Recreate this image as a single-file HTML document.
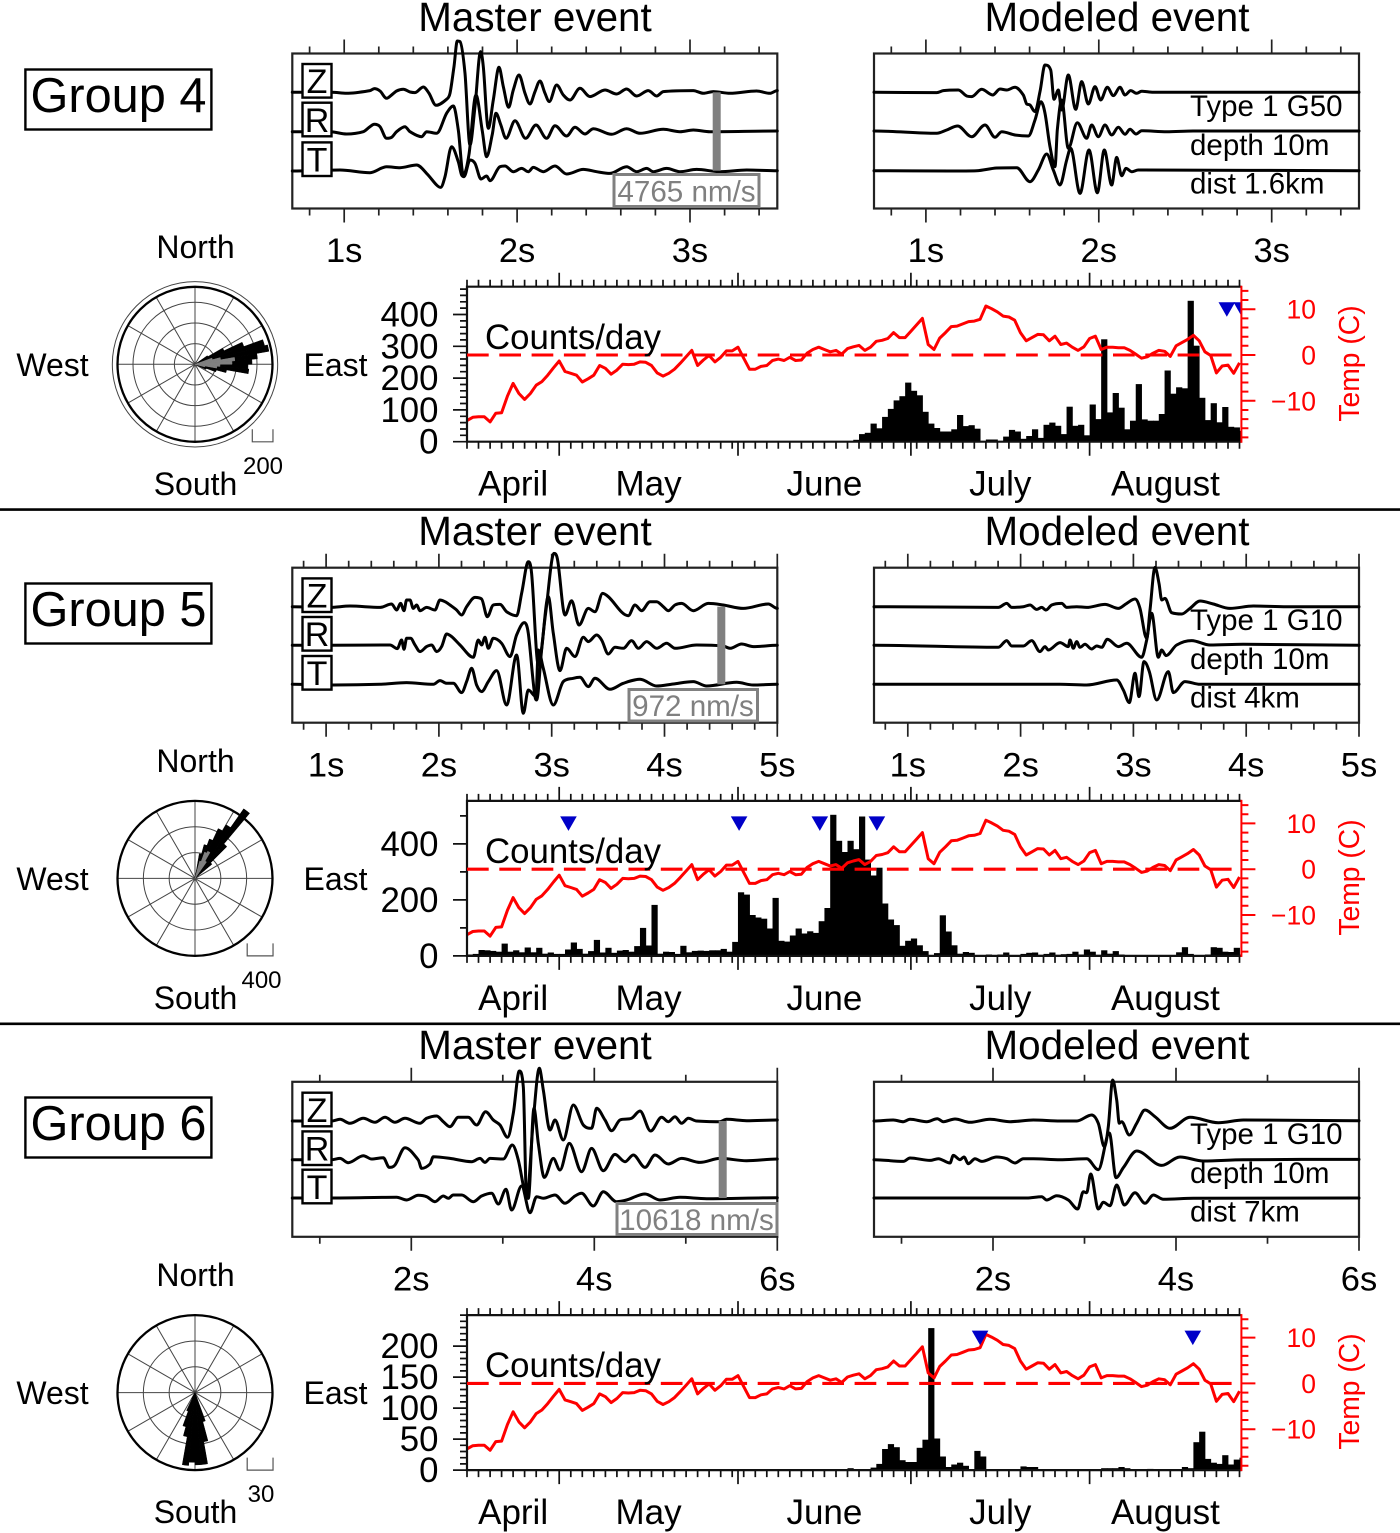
<!DOCTYPE html>
<html lang="en">
<head>
<meta charset="utf-8">
<title>Seismic event groups</title>
<style>
html,body{margin:0;padding:0;background:#fff;}
svg{display:block;font-family:"Liberation Sans",Arial,sans-serif;}
.t40{font-size:40.4px;text-anchor:middle;}
.t48{font-size:48.7px;}
.t32{font-size:32px;text-anchor:middle;}
.t34{font-size:34.8px;}
.t30{font-size:29.5px;}
.t24{font-size:24px;text-anchor:middle;}
.gr{font-size:29.6px;fill:#808080;text-anchor:middle;}
.tp{font-size:28.3px;fill:#f00;text-anchor:middle;}
.bx{fill:#fff;stroke:#000;stroke-width:2.4;}
.gb{fill:#fff;stroke:#808080;stroke-width:3;}
.zl{font-size:34px;text-anchor:middle;}
</style>
</head>
<body>
<svg id="chart" width="1400" height="1533" viewBox="0 0 1400 1533">
  <rect x="0" y="0" width="1400" height="1533" fill="#fff"/>
  <line x1="0" x2="1400" y1="509.6" y2="509.6" stroke="#000" stroke-width="2.6"/>
  <line x1="0" x2="1400" y1="1023.8" y2="1023.8" stroke="#000" stroke-width="2.6"/>

  <g id="group4"></g>
  <g id="group5"></g>
  <g id="group6"></g>

  <!-- Group 4 text -->
  <g>
    <rect class="bx" x="25.4" y="69.5" width="186" height="60"/>
    <text class="t48" x="30.5" y="112">Group 4</text>
    <text class="t40" x="535" y="31">Master event</text>
    <text class="t40" x="1117" y="31">Modeled event</text>
    <text class="t30" x="1190" y="116">Type 1 G50</text>
    <text class="t30" x="1190" y="155">depth 10m</text>
    <text class="t30" x="1190" y="193.5">dist 1.6km</text>
    <rect class="gb" x="614" y="174.5" width="145" height="32"/>
    <text class="gr" x="686.5" y="201.5">4765 nm/s</text>
    <text class="t32" x="195.5" y="258">North</text>
    <text class="t32" x="52.5" y="376">West</text>
    <text class="t32" x="335.5" y="376">East</text>
    <text class="t32" x="195.5" y="495">South</text>
    <text class="t24" x="263" y="474">200</text>
    <text class="t34" x="485" y="349">Counts/day</text>
    <text class="tp" transform="translate(1359 363.5) rotate(-90)">Temp (C)</text>
  </g>

  <!-- Group 5 text -->
  <g>
    <rect class="bx" x="25.4" y="583.5" width="186" height="60"/>
    <text class="t48" x="30.5" y="626">Group 5</text>
    <text class="t40" x="535" y="545">Master event</text>
    <text class="t40" x="1117" y="545">Modeled event</text>
    <text class="t30" x="1190" y="630">Type 1 G10</text>
    <text class="t30" x="1190" y="669">depth 10m</text>
    <text class="t30" x="1190" y="707.5">dist 4km</text>
    <rect class="gb" x="629" y="689.5" width="128.5" height="31.5"/>
    <text class="gr" x="693" y="716">972 nm/s</text>
    <text class="t32" x="195.5" y="772">North</text>
    <text class="t32" x="52.5" y="890">West</text>
    <text class="t32" x="335.5" y="890">East</text>
    <text class="t32" x="195.5" y="1009">South</text>
    <text class="t24" x="261.5" y="988">400</text>
    <text class="t34" x="485" y="863">Counts/day</text>
    <text class="tp" transform="translate(1359 877.5) rotate(-90)">Temp (C)</text>
  </g>

  <!-- Group 6 text -->
  <g>
    <rect class="bx" x="25.4" y="1097.5" width="186" height="60"/>
    <text class="t48" x="30.5" y="1140">Group 6</text>
    <text class="t40" x="535" y="1059">Master event</text>
    <text class="t40" x="1117" y="1059">Modeled event</text>
    <text class="t30" x="1190" y="1144">Type 1 G10</text>
    <text class="t30" x="1190" y="1183">depth 10m</text>
    <text class="t30" x="1190" y="1221.5">dist 7km</text>
    <rect class="gb" x="617" y="1203.5" width="160" height="31"/>
    <text class="gr" x="696.5" y="1230">10618 nm/s</text>
    <text class="t32" x="195.5" y="1286">North</text>
    <text class="t32" x="52.5" y="1404">West</text>
    <text class="t32" x="335.5" y="1404">East</text>
    <text class="t32" x="195.5" y="1523">South</text>
    <text class="t24" x="261" y="1502">30</text>
    <text class="t34" x="485" y="1377">Counts/day</text>
    <text class="tp" transform="translate(1359 1391.5) rotate(-90)">Temp (C)</text>
  </g>
</svg>
<script>
/* ---------- shared time-series data ---------- */
const monthLabels = ["April","May","June","July","August"];
const monthStartDays = [0,16,47,77,108,134.3];
const tempLabels = [10,0,-10];

/* daily temperature, deg C, from the start of the window */
const tempValues = [
-14.3,-13.6,-13.5,-13.5,-14.6,-12.7,-12.6,-9.0,-6.2,-8.4,
-9.7,-8.4,-6.6,-5.8,-4.4,-2.8,-1.3,-3.6,-4.0,-4.4,
-5.9,-5.2,-4.4,-2.3,-2.9,-4.2,-3.3,-2.0,-2.1,-2.0,
-1.5,-1.6,-2.3,-3.9,-4.6,-4.0,-3.1,-1.8,-0.4,1.0,
-2.3,-1.1,-0.1,-1.5,-0.5,0.9,0.9,1.7,-0.7,-3.1,
-3.1,-2.5,-2.3,-1.2,-0.9,-1.2,-0.5,-1.2,-1.1,0.4,
1.2,1.7,1.2,0.7,1.0,0.2,1.4,1.8,2.1,1.0,
1.7,3.0,3.2,3.6,4.9,3.8,3.8,5.2,6.6,8.0,
2.3,1.2,3.7,4.9,6.2,6.3,6.8,7.3,7.4,7.8,
10.7,10.1,9.4,8.5,8.3,7.6,4.9,3.1,3.8,4.5,
4.4,3.1,4.1,2.3,2.6,1.7,1.0,1.8,3.6,4.1,
1.2,1.7,1.7,1.6,1.6,1.0,0.2,-0.7,-0.4,0.4,
1.0,0.8,-0.3,2.0,2.7,3.4,4.3,3.1,0.7,-0.1,
-3.9,-2.4,-2.2,-4.0,-1.7];

/* ---------- daily event counts ---------- */
const g4Counts = [
0,0,0,0,0,0,0,0,0,0,0,0,0,0,0,0,0,0,0,0,
0,0,0,0,0,0,0,0,0,0,0,0,0,0,0,0,0,0,0,0,
0,0,0,0,0,0,0,0,0,0,0,0,0,0,0,0,0,0,0,0,
0,0,0,0,0,1,2,
6,24,28,57,42,78,103,130,143,186,160,146,94,57,43,32,32,39,84,49,
52,41,2,7,7,2,16,37,32,9,18,39,12,53,60,50,24,110,50,53,
20,117,71,322,92,153,107,39,66,181,70,66,66,87,224,151,171,168,443,302,
138,68,121,61,109,47,45,34];
const g5Counts = [
5,7,21,20,18,15,44,15,20,13,30,13,29,8,12,7,7,23,48,25,
8,17,57,12,29,11,19,21,15,35,100,37,182,8,15,14,7,36,13,18,
19,18,20,20,25,15,50,227,219,146,137,133,98,207,54,51,73,98,80,88,
82,124,171,504,411,371,411,381,498,344,287,315,187,130,110,36,54,62,38,17,
2,10,145,87,38,8,14,11,1,1,5,2,5,12,2,0,7,11,12,4,
7,12,4,6,7,15,5,23,15,4,20,8,17,5,1,0,0,0,0,0,
0,0,0,13,31,7,1,1,5,31,29,15,14,29,5];
const g6Counts = [
0,0,0,0,0,0,0,0,0,0,0,0,0,0,0,0,0,0,0,0,
0,0,0,0,0,0,0,0,0,0,0,0,0,0,0,0,0,0,0,0,
0,0,0,0,0,0,0,0,0,0,0,0,0,0,0,0,0,0,0,0,
0,0,0,0,0,0,
3,1,0,1,4,10,34,42,37,16,13,13,36,49,229,51,22,5,9,12,
7,1,31,22,0,0,0,0,0,0,6,5,5,0,0,0,0,0,0,0,
0,0,1,0,3,3,3,5,3,0,0,0,2,0,0,0,0,0,5,3,
45,62,18,12,10,24,9,17,20,10];

const g4EventDays = [131.8,134.4];
const g5EventDays = [17.6,47.2,61.2,71.1];
const g6EventDays = [89,125.9];

const g4CountLabels = [0,100,200,300,400];
const g5CountLabels = [0,200,400];
const g6CountLabels = [0,50,100,150,200];

/* ---------- rose diagrams: 5-degree azimuth bins ---------- */
const g4RoseBins  = [55,60,65,70,75,80,85,90,95,100,105,110];
const g4RoseCounts= [145,310,503,697,726,606,552,513,523,310,213,116];
const g4RoseSubset= [0,0,0,174,252,387,358,242,213,97,0,0];
const g5RoseBins  = [10,15,20,25,30,35,40,45];
const g5RoseCounts= [387,542,650,851,960,1316,697,341];
const g5RoseSubset= [0,279,433,464,310,0,0,0];
const g6RoseBins  = [160,165,170,175,180,185,190,195,200,205];
const g6RoseCounts= [35,58,84,84,81,85,52,41,23,8];
const g6RoseSubset= [0,0,0,0,0,0,0,0,0,0];

/* ---------- waveforms: sample, amplitude pairs (1455 samples per window) ---------- */
const g4MasterZ = [0,0,118,0,163,-3,233,5,246,11,263,4,283,-18,298,-8,313,4,333,9,353,1,368,-1,393,16,410,-3,431,-39,463,-21,473,-3,485,77,495,154,503,152,518,57,533,-158,548,-43,565,122,573,77,588,-108,603,-23,620,75,633,17,649,-45,663,7,680,52,698,-3,713,-35,728,2,743,34,758,-3,771,-28,793,22,813,-8,833,-23,863,12,893,-13,938,7,973,-5,1003,10,1033,-11,1068,5,1093,-11,1113,2,1203,5,1233,-3,1263,2,1313,-3,1393,4,1433,-3,1455,5];
const g4MasterR = [0,-2,113,-2,163,-9,213,-2,233,13,246,20,263,13,283,-22,298,-19,313,-2,338,13,353,-2,388,-17,403,-2,433,-7,463,53,483,75,498,3,513,-132,530,-70,551,108,570,0,583,-77,600,-10,611,53,625,20,641,-22,668,31,700,-22,731,18,763,-22,788,16,823,-15,848,11,878,-9,903,7,958,-10,1003,7,1043,-7,1113,5,1163,-2,1203,3,1253,-2,1455,0];
const g4MasterT = [0,-1,143,2,233,-6,283,12,323,9,373,17,403,-8,433,-43,445,-50,458,-18,478,72,498,27,508,-13,515,-18,533,32,548,22,566,-25,583,-16,593,-30,623,12,638,14,663,-3,688,7,708,-3,723,10,753,-3,788,14,823,-10,873,4,913,-3,953,-8,1003,12,1033,-3,1063,7,1083,-3,1123,7,1163,-3,1213,4,1283,-3,1363,2,1455,0];
const g4ModelZ = [0,0,188,-1,208,5,253,7,278,-11,293,-13,323,9,356,-8,378,10,398,7,423,15,448,-8,458,-35,468,-38,483,-58,498,2,513,82,530,67,540,-21,553,7,563,-53,583,52,605,-51,623,32,643,-35,663,17,680,-23,700,15,718,-10,738,15,753,-8,770,5,788,-3,803,3,838,0,1455,0];
const g4ModelR = [0,0,188,-7,218,3,251,15,293,-17,333,18,363,-19,383,-2,423,-12,463,-15,483,33,501,88,513,53,528,-47,543,-107,550,3,563,93,583,-52,610,25,638,-22,653,18,673,-17,693,18,713,-12,733,11,753,-10,768,5,786,-9,803,1,878,-2,958,0,1455,0];
const g4ModelT = [0,0,228,-1,308,0,368,8,428,9,468,-33,493,2,518,50,538,2,558,-43,578,32,590,67,618,-68,645,62,670,-66,691,62,713,-43,728,40,743,-15,756,7,773,-3,793,2,1455,0];

const g5MasterZ = [0,0,113,-2,173,2,263,-2,298,8,313,-10,325,10,335,-12,343,20,353,20,363,-5,373,5,383,-12,403,-2,428,-10,443,20,458,15,473,5,493,-10,508,-25,523,0,548,28,568,23,585,-30,603,5,623,7,643,-15,673,-27,688,40,708,135,718,100,738,-175,760,-20,785,160,795,145,818,-25,838,18,860,-55,888,-5,908,-15,931,40,948,30,1008,-27,1028,5,1048,-12,1073,15,1093,15,1113,0,1128,-12,1148,5,1168,10,1203,-12,1248,10,1293,5,1353,-5,1428,8,1455,-5];
const g5MasterR = [0,0,113,0,293,1,315,-10,328,16,335,-12,343,21,355,21,368,1,383,-19,403,-4,418,1,433,-19,448,-4,463,34,478,26,503,1,543,-36,558,16,568,1,578,24,588,-9,603,21,628,6,653,-34,673,31,696,68,708,36,728,-154,733,-164,748,-14,768,146,783,36,803,-76,823,-9,848,-34,873,24,888,11,913,31,928,16,948,-26,968,-6,993,-9,1018,14,1038,-9,1063,11,1093,-9,1123,6,1148,-9,1213,1,1293,-2,1313,-9,1348,4,1383,-4,1455,0];
const g5MasterT = [0,0,123,-2,263,0,343,5,423,0,443,11,463,3,483,3,508,-25,523,8,538,48,553,-2,568,-22,588,8,613,41,643,-62,673,88,693,-87,708,-17,731,-37,738,103,753,48,783,-62,813,8,843,18,863,21,888,-7,908,18,953,-15,993,3,1043,15,1093,-5,1143,1,1203,8,1243,-5,1333,6,1383,-2,1455,0];
const g5ModelZ = [0,0,373,-2,398,10,413,-2,448,0,468,5,488,-8,503,-2,516,-10,533,5,563,10,578,-2,608,0,638,-2,693,7,733,-5,758,10,783,23,798,-5,818,-95,828,-10,843,118,855,70,863,20,873,25,893,-18,923,-22,948,-5,978,17,1018,8,1068,-5,1138,2,1238,0,1455,0];
const g5ModelR = [0,0,373,-6,398,14,413,-2,448,-2,473,14,498,-19,513,-4,523,-14,558,8,583,-4,588,16,598,-9,608,11,618,-6,633,3,653,-11,668,-2,683,-6,700,18,733,-4,758,6,803,-36,818,16,833,96,853,-36,863,-14,876,-31,908,1,953,14,1008,1,1108,3,1455,0];
const g5ModelT = [0,0,558,0,638,-2,728,13,748,-17,766,-55,783,33,795,-37,810,68,826,38,848,-47,883,38,898,-25,933,8,978,0,1455,0];

const g6MasterZ = [0,0,118,0,143,5,173,-7,213,8,248,-4,278,11,308,-4,338,8,383,-7,403,8,433,15,453,-2,473,-17,498,11,528,11,553,-12,580,28,603,3,623,-12,646,-49,663,23,681,150,693,103,703,-232,723,3,741,158,753,93,773,-27,788,3,813,-57,843,48,873,-12,898,-22,913,38,938,3,958,-29,983,3,1018,8,1043,30,1075,-30,1108,11,1128,-2,1148,13,1168,-7,1188,8,1213,0,1283,-2,1303,5,1363,1,1455,3];
const g6MasterR = [0,0,118,0,143,4,168,-9,213,12,238,2,273,6,291,-23,308,-16,338,36,378,-1,388,-26,413,-13,423,9,473,4,538,-6,563,4,578,-8,593,4,633,2,660,44,678,-1,698,-101,708,-116,725,154,738,49,756,-53,783,4,803,-31,831,49,868,-36,898,34,933,-33,968,16,998,-6,1023,14,1058,-23,1088,14,1128,-13,1168,4,1223,-8,1283,4,1363,-3,1455,2];
const g6MasterT = [0,0,123,0,313,2,343,-6,378,8,403,4,428,-11,453,6,468,-1,483,9,508,9,543,-11,568,6,598,14,618,-18,641,26,658,-36,688,36,713,-44,733,4,753,-1,788,9,818,-16,848,6,868,14,903,-24,933,19,973,-11,1003,-6,1058,12,1103,-6,1163,2,1243,-2,1455,1];
const g6ModelZ = [0,0,58,3,88,-2,108,5,158,-2,190,7,208,-2,243,6,288,-4,348,5,408,-2,478,3,558,0,608,0,653,18,673,-7,691,-77,703,-17,716,123,728,63,736,-7,743,-2,766,-42,788,-7,813,33,843,13,888,-22,948,11,1033,-5,1108,3,1455,1];
const g6ModelR = [0,0,88,-5,108,5,168,-2,193,3,228,-10,238,13,258,0,270,8,283,-12,303,3,323,-5,368,8,398,3,423,-10,448,3,478,3,558,0,638,3,673,-30,706,80,726,-54,748,-24,788,26,863,-17,918,8,988,-4,1108,0,1455,1];
const g6ModelT = [0,0,458,0,503,4,518,-6,548,7,583,-6,611,-33,628,19,638,16,650,72,673,-33,688,-13,708,-23,728,39,751,-21,783,16,813,-16,838,9,868,-4,958,-1,1455,0];

/* ---------- axis tick labels ---------- */
const g4TimeLabels = [1,2,3];
const g5TimeLabels = [1,2,3,4,5];
const g6TimeLabels = [2,4,6];
const componentLabels = ["Z","R","T"];

/* ---------- drawing ---------- */
const chart = document.getElementById('chart');
const NS = chart.namespaceURI;
const BOX_W = 485, BOX_H = 155, TIME_START = 0.7, SAMPLES = 1455;
const PLOT_LEFT = 467, PLOT_RIGHT = 1241.4, PLOT_H = 155, DAY_PX = 5.765, TEMP_PX = 4.58;

function make(parent, tag, attrs, text){
  const e = document.createElementNS(NS, tag);
  for (const k in attrs) e.setAttribute(k, attrs[k]);
  if (text !== undefined) e.textContent = text;
  parent.appendChild(e);
  return e;
}
const xDay = d => PLOT_LEFT + d * DAY_PX;

/* monotone cubic path: rounded like a densely sampled seismogram */
function smoothPath(xs, ys){
  const n = xs.length, m = new Array(n).fill(0);
  for (let i = 1; i < n - 1; i++){
    const d0 = (ys[i] - ys[i-1]) / (xs[i] - xs[i-1]);
    const d1 = (ys[i+1] - ys[i]) / (xs[i+1] - xs[i]);
    if (d0 * d1 <= 0) { m[i] = 0; continue; }
    const s = (ys[i+1] - ys[i-1]) / (xs[i+1] - xs[i-1]);
    const lim = 3 * Math.min(Math.abs(d0), Math.abs(d1));
    m[i] = Math.sign(s) * Math.min(Math.abs(s), lim);
  }
  let d = 'M' + xs[0].toFixed(1) + ' ' + ys[0].toFixed(1);
  for (let i = 0; i < n - 1; i++){
    const h = (xs[i+1] - xs[i]) / 3;
    d += 'C' + (xs[i] + h).toFixed(1) + ' ' + (ys[i] + m[i] * h).toFixed(1) + ' ' +
         (xs[i+1] - h).toFixed(1) + ' ' + (ys[i+1] - m[i+1] * h).toFixed(1) + ' ' +
         xs[i+1].toFixed(1) + ' ' + ys[i+1].toFixed(1);
  }
  return d;
}

function drawWave(parent, left, baseY, samples, name){
  const xSample = s => left + s * BOX_W / SAMPLES;
  const yAmp = a => baseY - a / 3;
  const xs = [], ys = [];
  for (let i = 0; i < samples.length; i += 2){
    xs.push(xSample(samples[i]));
    ys.push(yAmp(samples[i+1]));
  }
  const p = make(parent, 'path', {d:smoothPath(xs, ys), fill:'none', stroke:'#000', 'stroke-width':3, 'stroke-linejoin':'round', 'stroke-linecap':'round'});
  
  
}

function drawWaveBox(parent, left, top, tStep, tMax, majorEvery, labels, name){
  const pxPerSec = BOX_W / (tMax - TIME_START);
  const xTime = t => left + (t - TIME_START) * pxPerSec;
  const frame = make(parent, 'rect', {x:left, y:top, width:BOX_W, height:BOX_H, fill:'none', stroke:'#222', 'stroke-width':2.2});
  
  
  let d = '';
  const first = tStep === 1 ? 1 : 0.8;
  const count = Math.floor((tMax - first) / tStep + 1e-6);
  for (let i = 0; i <= count; i++){
    const t = first + i * tStep;
    const major = Math.abs(t / majorEvery - Math.round(t / majorEvery)) < 1e-6;
    const len = major ? 14 : 7;
    const x = xTime(t).toFixed(1);
    d += 'M' + x + ' ' + top + 'v-' + len + 'M' + x + ' ' + (top + BOX_H) + 'v' + len;
  }
  const ticks = make(parent, 'path', {d:d, fill:'none', stroke:'#222', 'stroke-width':1.7});
  
  
  labels.forEach(t => {
    const lab = make(parent, 'text', {x:xTime(t), y:top + 208.7, 'text-anchor':'middle', 'font-size':34.5}, t + 's');
    
    
  });
}

function drawBars(parent, bottom, pxPerCount, counts){
  counts.forEach((c, d) => {
    if (!c) return;
    const b = make(parent, 'rect', {x:xDay(d).toFixed(2), y:(bottom - c * pxPerCount).toFixed(1), width:(DAY_PX + 0.45).toFixed(2), height:(c * pxPerCount).toFixed(1), fill:'#000'});
    
    
  });
}

function drawSeries(parent, bottom, pxPerCount, counts, countLabels, minorStep, eventDays, idx){
  const top = bottom - PLOT_H;
  const zeroY = bottom - 86.7;
  const tempY = t => zeroY - t * TEMP_PX;
  const yCount = c => bottom - c * pxPerCount;
  const clip = make(parent, 'clipPath', {id:'plotclip' + idx});
  const clipR = make(clip, 'rect', {x:PLOT_LEFT, y:top - 20, width:PLOT_RIGHT - PLOT_LEFT + 0.5, height:PLOT_H + 40});
  
  
  
  

  const g = make(parent, 'g', {'clip-path':'url(#plotclip' + idx + ')'});
  
  
  drawBars(g, bottom, pxPerCount, counts);

  /* frame: top, left, bottom in black */
  const frame = make(parent, 'path', {d:'M' + PLOT_RIGHT + ' ' + top + 'H' + PLOT_LEFT + 'V' + bottom + 'H' + PLOT_RIGHT, fill:'none', stroke:'#111', 'stroke-width':2.2});
  
  

  /* x ticks */
  let d = '';
  for (let day = 0; day <= 134; day += 2){
    const x = xDay(day).toFixed(1);
    const major = monthStartDays.slice(1, 5).indexOf(day) >= 0;
    if (major) continue;
    d += 'M' + x + ' ' + top + 'v-7M' + x + ' ' + bottom + 'v7';
  }
  monthStartDays.slice(1, 5).forEach(day => {
    const x = xDay(day).toFixed(1);
    d += 'M' + x + ' ' + top + 'v-14M' + x + ' ' + bottom + 'v14';
  });
  const xt = make(parent, 'path', {d:d, fill:'none', stroke:'#111', 'stroke-width':1.7});
  
  

  monthLabels.forEach((m, i) => {
    const cx = xDay((monthStartDays[i] + monthStartDays[i+1]) / 2);
    const t = make(parent, 'text', {x:cx, y:bottom + 54, 'text-anchor':'middle', 'font-size':35}, m);
    
    
  });

  /* left ticks */
  let dl = '';
  const maxC = PLOT_H / pxPerCount;
  for (let c = 0; c <= maxC; c += minorStep){
    const major = countLabels.indexOf(c) >= 0;
    dl += 'M' + PLOT_LEFT + ' ' + yCount(c).toFixed(1) + 'h-' + (major ? 14 : 7);
  }
  const yt = make(parent, 'path', {d:dl, fill:'none', stroke:'#111', 'stroke-width':1.7});
  
  
  countLabels.forEach(c => {
    const t = make(parent, 'text', {x:438.5, y:yCount(c) + 12, 'text-anchor':'end', 'font-size':34.8}, c);
    
    
  });

  /* temperature */
  const dash = make(parent, 'line', {x1:xDay(0), x2:xDay(132.9), y1:tempY(0), y2:tempY(0), stroke:'#f00', 'stroke-width':3.1, 'stroke-dasharray':'21.7 10.6'});
  
  
  const pts = tempValues.map((t, i) => xDay(i).toFixed(1) + ',' + tempY(t).toFixed(1)).join(' ');
  const line = make(g, 'polyline', {points:pts, fill:'none', stroke:'#f00', 'stroke-width':3, 'stroke-linejoin':'round'});
  
  

  /* event triangles */
  eventDays.forEach(day => {
    const cx = xDay(day), ty = top + 15.5;
    const tri = make(g, 'polygon', {points:(cx-8.3) + ',' + ty + ' ' + (cx+8.3) + ',' + ty + ' ' + cx + ',' + (ty+14.5), fill:'#0000c8'});
    
    
  });

  /* right axis */
  let dr = 'M' + PLOT_RIGHT + ' ' + (top - 1) + 'V' + (bottom + 1);
  for (let t = -18; t <= 14; t += 2){
    const major = tempLabels.indexOf(t) >= 0;
    dr += 'M' + PLOT_RIGHT + ' ' + tempY(t).toFixed(1) + 'h' + (major ? 14 : 7);
  }
  const rt = make(parent, 'path', {d:dr, fill:'none', stroke:'#f00', 'stroke-width':2});
  
  
  tempLabels.forEach(t => {
    const label = t < 0 ? '\u2212' + Math.abs(t) : String(t);
    const e = make(parent, 'text', {x:1316, y:tempY(t) + 9.5, 'text-anchor':'end', 'font-size':26.5, fill:'#f00'}, label);
    
    
  });
}

function drawRose(parent, cx, cy, ringPx, ringCount, rings, bins, counts, subset, barLeft){
  const rr = v => v / ringCount * ringPx;
  const FRAME = 77.5;
  const wedge = (az, r, fill, name) => {
    const a0 = az * Math.PI / 180, a1 = (az + 5) * Math.PI / 180;
    const d = 'M' + cx + ' ' + cy + 'L' + (cx + r * Math.sin(a0)).toFixed(1) + ' ' + (cy - r * Math.cos(a0)).toFixed(1) +
      'A' + r + ' ' + r + ' 0 0 1 ' + (cx + r * Math.sin(a1)).toFixed(1) + ' ' + (cy - r * Math.cos(a1)).toFixed(1) + 'Z';
    const w = make(parent, 'path', {d:d, fill:fill, stroke:fill, 'stroke-width':0.5});
    
    
  };
  for (let k = 1; k <= rings; k++){
    const c = make(parent, 'circle', {cx:cx, cy:cy, r:ringPx * k, fill:'none', stroke:'#444', 'stroke-width':1});
    
    
  }
  for (let a = 0; a < 360; a += 30){
    const r = a * Math.PI / 180;
    const l = make(parent, 'line', {x1:cx, y1:cy, x2:(cx + FRAME * Math.sin(r)).toFixed(1), y2:(cy - FRAME * Math.cos(r)).toFixed(1), stroke:'#444', 'stroke-width':1});
    
    
  }
  const frame = make(parent, 'circle', {cx:cx, cy:cy, r:FRAME, fill:'none', stroke:'#000', 'stroke-width':2.3});
  
  
  bins.forEach((az, i) => { if (counts[i]) wedge(az, rr(counts[i]), '#000', 'rose-wedge'); });
  bins.forEach((az, i) => { if (subset[i]) wedge(az, rr(subset[i]), '#808080', 'rose-subset-wedge'); });
  const sb = make(parent, 'path', {d:'M' + barLeft + ' ' + (cy + 65) + 'V' + (cy + 77.5) + 'H' + (barLeft + ringPx) + 'V' + (cy + 65), fill:'none', stroke:'#555', 'stroke-width':1.2});
  
  
}

function drawComponentLabels(parent, baseY){
  componentLabels.forEach((c, i) => {
    const cy = baseY[i] - 11.5;
    const r = make(parent, 'rect', {x:302.5, y:(cy - 16.8).toFixed(1), width:29, height:33.6, fill:'#fff', stroke:'#000', 'stroke-width':2.4});
    
    
    const t = make(parent, 'text', {x:317, y:(cy + 12.4).toFixed(1), class:'zl'}, c);
    
    
  });
}

function drawScaleBar(parent, x, top, bottom){
  const b = make(parent, 'rect', {x:x, y:top, width:8, height:bottom - top, fill:'#808080'});
  
  
}

function drawGroup(id, idx, top, base, wM, wR, tStep, tMax, major, tLabels, seriesBottom, pxPerCount, counts, cLabels, minorStep, events, rose, barX){
  const root = document.getElementById(id);
  drawWaveBox(root, 292.3, top, tStep, tMax, major, tLabels, 'master-waveform');
  drawWaveBox(root, 874, top, tStep, tMax, major, tLabels, 'modeled-waveform');
  const names = ['z','r','t'];
  wM.forEach((w, i) => drawWave(root, 292.3, base[i], w, 'master-trace-' + names[i]));
  wR.forEach((w, i) => drawWave(root, 874, base[i], w, 'modeled-trace-' + names[i]));
  drawScaleBar(root, barX, base[0], base[2]);
  drawComponentLabels(root, base);
  drawRose(root, rose[0], rose[1], rose[2], rose[3], rose[4], rose[5], rose[6], rose[7], rose[8]);
  drawSeries(root, seriesBottom, pxPerCount, counts, cLabels, minorStep, events, idx);
}

drawGroup('group4', 4, 53.5, [92.3,131,170.7],
  [g4MasterZ,g4MasterR,g4MasterT], [g4ModelZ,g4ModelR,g4ModelT],
  0.2, 3.505, 1, g4TimeLabels, 441.7, 0.318, g4Counts, g4CountLabels, 20, g4EventDays,
  [195,364.3,20.67,200,4,g4RoseBins,g4RoseCounts,g4RoseSubset,252.3], 712.7);

drawGroup('group5', 5, 567.7, [606.7,645.3,684.3],
  [g5MasterZ,g5MasterR,g5MasterT], [g5ModelZ,g5ModelR,g5ModelT],
  0.2, 5.0, 1, g5TimeLabels, 955.9, 0.28, g5Counts, g5CountLabels, 100, g5EventDays,
  [195,878.4,25.83,400,2,g5RoseBins,g5RoseCounts,g5RoseSubset,247.2], 717.3);

drawGroup('group6', 6, 1081.8, [1121,1159.7,1198],
  [g6MasterZ,g6MasterR,g6MasterT], [g6ModelZ,g6ModelR,g6ModelT],
  1, 6.0, 2, g6TimeLabels, 1470.1, 0.62, g6Counts, g6CountLabels, 10, g6EventDays,
  [195,1392.6,25.83,30,2,g6RoseBins,g6RoseCounts,g6RoseSubset,247.2], 718.7);
</script>
</body>
</html>
